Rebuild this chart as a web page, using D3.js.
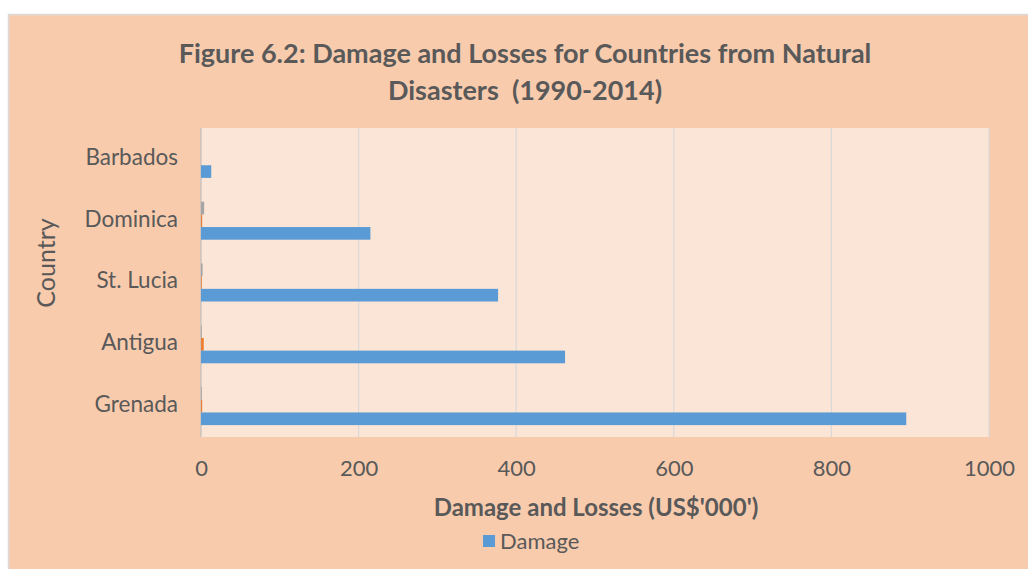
<!DOCTYPE html>
<html>
<head>
<meta charset="utf-8">
<script src="https://cdn.jsdelivr.net/npm/d3@7"></script>
<style>
  html, body { margin: 0; padding: 0; background: #ffffff; }
  svg { display: block; }
  text { font-family: Lato, "Open Sans", sans-serif; fill: #595959; white-space: pre; }
</style>
</head>
<body>
<svg id="chart" width="1028" height="569"></svg>
<script>
const categories = ["Barbados", "Dominica", "St. Lucia", "Antigua", "Grenada"];
const damage = [13, 215, 377, 462, 895];
const losses = [0, 1.5, 1, 3.5, 1.5];
const other = [0, 4, 2, 1, 1];
const xTicks = [0, 200, 400, 600, 800, 1000];
const titleLines = ["Figure 6.2: Damage and Losses for Countries from Natural", "Disasters  (1990-2014)"];
const xTitle = "Damage and Losses (US$'000')";
const yTitle = "Country";
const legendLabel = "Damage";

const seriesNames = ["Other", "Losses", "Damage"];
const seriesValues = { Other: other, Losses: losses, Damage: damage };
const colors = { Other: "#a5a5a5", Losses: "#ed7d31", Damage: "#5b9bd5" };

const svg = d3.select("#chart");
const plot = { left: 201, right: 989, top: 128, bottom: 437 };

// outer chart area
svg.append("rect").attr("x", 8.5).attr("y", 14.5).attr("width", 1030).attr("height", 570)
  .attr("fill", "#f8cbad").attr("stroke", "#d9d9d9").attr("stroke-width", 1.5);

// plot area
svg.append("rect").attr("x", plot.left).attr("y", plot.top)
  .attr("width", plot.right - plot.left).attr("height", plot.bottom - plot.top)
  .attr("fill", "#fbe5d6");

const x = d3.scaleLinear().domain([0, 1000]).range([plot.left, plot.right]);
const y = d3.scaleBand().domain(categories).range([plot.top, plot.bottom]).paddingInner(0.385).paddingOuter(0.1925);
const ySub = d3.scaleBand().domain(seriesNames).range([0, y.bandwidth()]);

// gridlines
svg.append("g").selectAll("line").data(xTicks).join("line")
  .attr("x1", d => x(d)).attr("x2", d => x(d))
  .attr("y1", plot.top).attr("y2", plot.bottom)
  .attr("stroke", d => d === 0 ? "#bfbfbf" : "#d9d9d9").attr("stroke-width", 1.2);

// bars
const groups = svg.append("g").selectAll("g").data(categories).join("g")
  .attr("transform", d => `translate(0,${y(d)})`);
groups.selectAll("rect").data((c, i) => seriesNames.map(s => ({ s, v: seriesValues[s][i] })))
  .join("rect")
  .attr("x", x(0))
  .attr("y", d => ySub(d.s))
  .attr("width", d => x(d.v) - x(0))
  .attr("height", ySub.bandwidth())
  .attr("fill", d => colors[d.s]);

// x axis
const xAxis = d3.axisBottom(x).tickValues(xTicks).tickSize(0).tickPadding(0).tickFormat(d3.format("d"));
const gx = svg.append("g").attr("transform", `translate(0,${plot.bottom})`).call(xAxis);
gx.select(".domain").remove();
gx.selectAll("text").attr("dy", null).attr("y", 39).style("font-size", "22px").attr("fill", "#595959");

// y axis
const yAxis = d3.axisLeft(y).tickSize(0).tickPadding(0);
const gy = svg.append("g").attr("transform", `translate(178,0)`).call(yAxis);
gy.select(".domain").remove();
gy.selectAll("text").style("font-size", "22.5px").attr("fill", "#595959").attr("dy", "0.35em")
  .attr("transform", "translate(0,-2)");

// title
svg.append("g").selectAll("text").data(titleLines).join("text")
  .attr("x", 525).attr("y", (d, i) => 63 + i * 37)
  .attr("text-anchor", "middle").style("font-size", "27px").style("font-weight", "bold")
  .text(d => d);

// axis titles
svg.append("text").attr("x", 596).attr("y", 516).attr("text-anchor", "middle")
  .style("font-size", "24px").style("font-weight", "bold").text(xTitle);
svg.append("text").attr("transform", "translate(55,263) rotate(-90)").attr("text-anchor", "middle")
  .style("font-size", "25px").text(yTitle);

// legend
svg.append("rect").attr("x", 483).attr("y", 535).attr("width", 12).attr("height", 12).attr("fill", colors.Damage);
svg.append("text").attr("x", 500).attr("y", 549).style("font-size", "22px").text(legendLabel);
</script>
</body>
</html>
